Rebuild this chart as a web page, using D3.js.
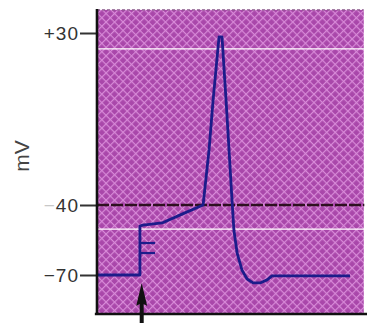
<!DOCTYPE html>
<html><head><meta charset="utf-8">
<script src="https://cdn.jsdelivr.net/npm/d3@7"></script>
<style>html,body{margin:0;padding:0;background:#fff;}svg{display:block;}</style>
</head><body>
<script>
// ---- data ----
const tickValues = [30, -40, -70];
const tickLabels = ["+30", "−40", "−70"];
const thresholdMv = -40;
const stimulusTime = 1.6; // ms
// membrane potential trace (time ms, mV)
const traceTime = [0, 1.59, 1.59, 1.70, 2.41, 3.15, 3.93, 4.15, 4.30, 4.52, 4.63, 4.78, 4.89, 5.00, 5.07, 5.19, 5.37, 5.56, 5.78, 6.04, 6.30, 6.48, 9.37];
const traceMv   = [-70, -70, -49, -48.6, -47.7, -43.9, -40, -17.6, 2.7, 28.4, 28.4, 2.7, -17.6, -38.0, -50.7, -60.6, -67.9, -71.7, -73.4, -73.4, -72.1, -70.4, -70.4];
// sub-threshold stimulus levels (the small "E" prongs)
const subStimMv = [-56.3, -60.6];
const subStimEnd = 2.15;
// scan artifact lines (white)
const artifactMv = [23.5, -50.3];

// ---- layout ----
const W = 367, H = 323;
const svg = d3.select("body").append("svg").attr("width", W).attr("height", H);

const x = d3.scaleLinear().domain([0, 10]).range([97, 367]);
const y = d3.scaleLinear().domain([-70, -40, 30]).range([275, 205, 33]);
const yBottom = -86.7, yTop = 39.4;

// texture pattern
const defs = svg.append("defs");
const pat = defs.append("pattern").attr("id", "tex").attr("patternUnits", "userSpaceOnUse")
  .attr("width", 6).attr("height", 6).attr("patternTransform", "rotate(45)");
pat.append("rect").attr("width", 6).attr("height", 6).attr("fill", "#a947aa");
pat.append("line").attr("x1", 0).attr("y1", 0).attr("x2", 6).attr("y2", 0).attr("stroke", "#d88ad8").attr("stroke-width", 2.4);
pat.append("line").attr("x1", 0).attr("y1", 0).attr("x2", 0).attr("y2", 6).attr("stroke", "#d88ad8").attr("stroke-width", 2.4);

svg.append("rect")
  .attr("x", x(0)).attr("y", y(yTop))
  .attr("width", x(9.88) - x(0)).attr("height", y(yBottom) - y(yTop))
  .attr("fill", "url(#tex)");
// top edge
svg.append("line").attr("x1", x(0)).attr("x2", x(9.88)).attr("y1", y(yTop)).attr("y2", y(yTop))
  .attr("stroke", "#8a5a8a").attr("stroke-width", 1.2).attr("stroke-dasharray", "3,2");

// artifact lines
svg.selectAll(".art").data(artifactMv).join("line")
  .attr("x1", x(0)).attr("x2", x(10)).attr("y1", d => y(d)).attr("y2", d => y(d))
  .attr("stroke", "#fff").attr("stroke-width", 1.2);

// threshold
svg.append("line").attr("x1", x(0)).attr("x2", x(9.9))
  .attr("y1", y(thresholdMv)).attr("y2", y(thresholdMv))
  .attr("stroke", "#2e1020").attr("stroke-width", 2.4).attr("stroke-dasharray", "12,2");

// sub-threshold prongs
svg.selectAll(".sub").data(subStimMv).join("line")
  .attr("x1", x(stimulusTime)).attr("x2", x(subStimEnd))
  .attr("y1", d => y(d)).attr("y2", d => y(d))
  .attr("stroke", "#1c1c8a").attr("stroke-width", 2.2);

// trace
const pts = traceTime.map((t, i) => [t, traceMv[i]]);
svg.append("path").datum(pts)
  .attr("d", d3.line().x(d => x(d[0])).y(d => y(d[1])))
  .attr("fill", "none").attr("stroke", "#1c1c8a").attr("stroke-width", 2.8)
  .attr("stroke-linejoin", "round");

// axis
const axis = d3.axisLeft(y).tickValues(tickValues).tickSize(17).tickFormat("");
const gAx = svg.append("g").attr("transform", `translate(${x(0)},0)`).call(axis);
gAx.select(".domain").remove();
gAx.selectAll(".tick line").attr("stroke", "#333").attr("stroke-width", 2);

svg.append("line").attr("x1", x(0)).attr("x2", x(0)).attr("y1", y(yTop) - 1).attr("y2", y(yBottom) + 1)
  .attr("stroke", "#111").attr("stroke-width", 2.6);
svg.append("line").attr("x1", x(-0.08)).attr("x2", x(10)).attr("y1", y(yBottom)).attr("y2", y(yBottom))
  .attr("stroke", "#111").attr("stroke-width", 2.6);

// tick labels
const lab = svg.selectAll(".lab").data(tickValues).join("text")
  .attr("x", 79).attr("y", d => y(d))
  .attr("dy", "0.36em").attr("text-anchor", "end")
  .attr("font-family", "Liberation Sans, Arial, sans-serif").attr("font-size", 19)
  .attr("letter-spacing", 1).attr("fill", "#333");
lab.each(function(d, i) {
  const s = tickLabels[i];
  const t = d3.select(this);
  t.append("tspan").text(s[0]).attr("fill", d === -40 ? "#c8c8c8" : "#333");
  t.append("tspan").text(s.slice(1));
});

// mV label
svg.append("text")
  .attr("transform", "translate(29,156) rotate(-90)")
  .attr("text-anchor", "middle")
  .attr("font-family", "Liberation Sans, Arial, sans-serif").attr("font-size", 21)
  .attr("fill", "#444").text("mV");

// stimulus arrow
const ax = x(stimulusTime) + 1.5;
const arrowTop = y(yBottom) - 31;
svg.append("path")
  .attr("d", `M${ax},${arrowTop} L${ax + 5.5},${arrowTop + 23} L${ax + 2},${arrowTop + 21} L${ax + 2},${H} L${ax - 2},${H} L${ax - 2},${arrowTop + 21} L${ax - 5.5},${arrowTop + 23} Z`)
  .attr("fill", "#111");
</script>
</body></html>
